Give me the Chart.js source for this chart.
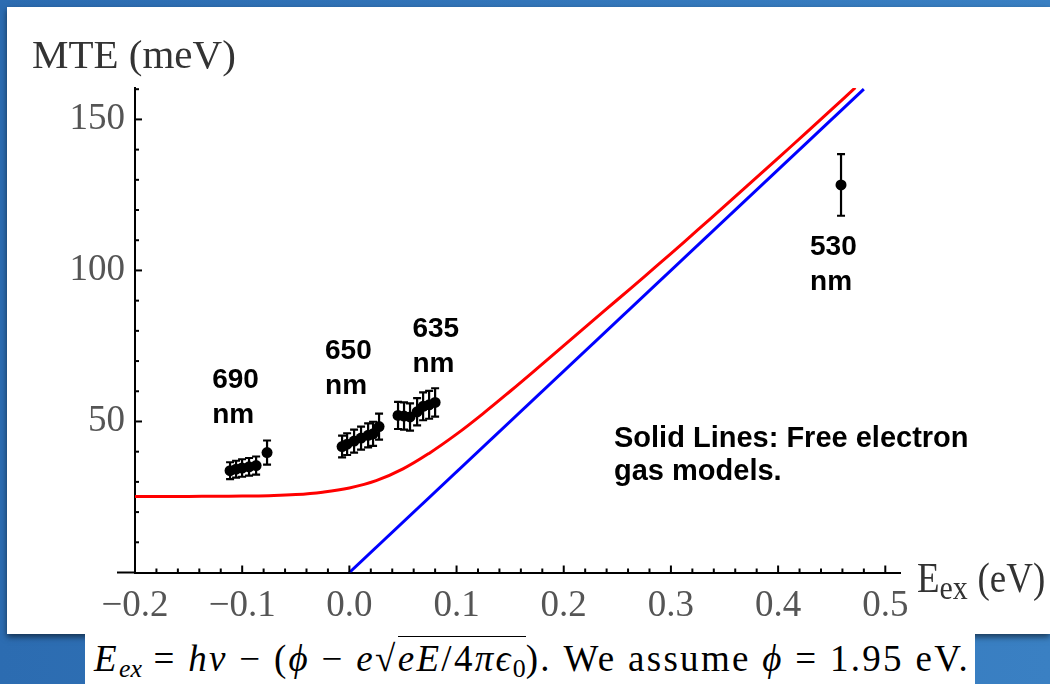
<!DOCTYPE html>
<html><head><meta charset="utf-8">
<script src="https://cdn.jsdelivr.net/npm/chart.js@4.4.0/dist/chart.umd.min.js"></script>
<style>
html,body{margin:0;padding:0;width:1050px;height:684px;overflow:hidden;background:#3277bb;}
#bg{position:absolute;left:0;top:0;width:1050px;height:684px;background:linear-gradient(90deg,#2c6cb1,#3a80c3);}
#panel{position:absolute;left:7px;top:7px;width:1043px;height:627px;background:#fff;box-shadow:0 3px 6px rgba(0,0,0,0.55);}
#wrap{position:absolute;left:0;top:0;width:1050px;height:634px;}
#formula{position:absolute;left:85px;top:634px;width:890px;height:50px;background:#fff;font-family:"Liberation Serif",serif;font-size:37px;letter-spacing:2.3px;color:#000;white-space:nowrap;line-height:50px;padding-left:9px;box-sizing:border-box;}
#formula sub{font-size:0.7em;vertical-align:-0.25em;line-height:0;letter-spacing:0;}
.rad{border-top:1.6px solid #000;padding-top:1px;}
</style></head>
<body>
<div id="bg"></div>
<div id="panel"></div>
<div id="wrap"><canvas id="c" width="1050" height="634"></canvas></div>
<div id="formula"><i>E</i><sub><i>ex</i></sub> = <i>hν</i> − (<i>ϕ</i> − <i>e</i>√<span class="rad"><i>eE</i>/4<i>π</i><i>ϵ</i><sub>0</sub></span>). We assume <i>ϕ</i> = 1.95 eV.</div>
<script>
// ---- data ----
const redX = [-0.2, -0.175, -0.15, -0.125, -0.1, -0.075, -0.05, -0.025, 0, 0.025, 0.05, 0.075, 0.1, 0.125, 0.15, 0.175, 0.2, 0.225, 0.25, 0.275, 0.3, 0.325, 0.35, 0.375, 0.4, 0.425, 0.45, 0.472];
const redY = [25.2, 25.2, 25.2, 25.25, 25.3, 25.45, 25.8, 26.6, 28.0, 30.4, 34.3, 39.6, 45.8, 52.7, 60.0, 67.5, 75.1, 82.7, 90.3, 97.9, 105.6, 113.4, 121.3, 129.2, 137.2, 145.2, 153.3, 160.5];
const blueX = [0, 0.48];
const blueY = [0, 160];
const measX = [-0.1113, -0.1057, -0.1001, -0.0936, -0.087, -0.0768,
               -0.0068, -0.0021, 0.0044, 0.0109, 0.0175, 0.0221, 0.0277,
               0.0454, 0.051, 0.0566, 0.0632, 0.0688, 0.0744, 0.08,
               0.4587];
const measY = [33.7, 34.2, 34.6, 35.0, 35.4, 39.7,
               41.7, 42.5, 43.5, 44.5, 45.4, 45.9, 48.3,
               52.0, 51.8, 51.5, 53.2, 55.0, 55.5, 56.3,
               128.3];
const measErr = [2.8, 2.8, 2.9, 2.9, 3.0, 4.0,
                 3.6, 3.6, 3.8, 3.8, 4.0, 4.0, 4.3,
                 4.5, 4.5, 4.5, 4.5, 4.6, 4.6, 4.7,
                 10.2];
const xMajor = [-0.2, -0.1, 0, 0.1, 0.2, 0.3, 0.4, 0.5];
const yMajor = [50, 100, 150];
const groupLabels = [['690', 'nm'], ['650', 'nm'], ['635', 'nm'], ['530', 'nm']];
const noteLines = ['Solid Lines: Free electron', 'gas models.'];
const yTitle = 'MTE (meV)';

const zip = (xs, ys) => xs.map((x, i) => ({x, y: ys[i]}));
const fmtX = v => (v < 0 ? '\u2212' : '') + Math.abs(v).toFixed(1);
const isMajor = (arr, v) => arr.find(t => Math.abs(t - v) < 1e-6);

const decor = {
  id: 'decor',
  afterDatasetsDraw(chart) {
    const {ctx} = chart; const xs = chart.scales.x, ys = chart.scales.y;
    ctx.save();
    ctx.strokeStyle = '#000'; ctx.lineWidth = 2.2;
    measX.forEach((mx, i) => {
      const px = xs.getPixelForValue(mx);
      const p1 = ys.getPixelForValue(measY[i] + measErr[i]);
      const p2 = ys.getPixelForValue(measY[i] - measErr[i]);
      ctx.beginPath();
      ctx.moveTo(px, p1); ctx.lineTo(px, p2);
      ctx.moveTo(px - 4, p1); ctx.lineTo(px + 4, p1);
      ctx.moveTo(px - 4, p2); ctx.lineTo(px + 4, p2);
      ctx.stroke();
    });
    ctx.restore();
  },
  afterDraw(chart) {
    const {ctx} = chart; const xs = chart.scales.x, ys = chart.scales.y;
    ctx.save();
    ctx.strokeStyle = '#000'; ctx.lineWidth = 2;
    const axY = ys.getPixelForValue(0);
    const axX = xs.getPixelForValue(-0.2);
    ctx.beginPath(); ctx.moveTo(axX - 18, axY); ctx.lineTo(axX, axY); ctx.stroke();
    xs.ticks.forEach(t => {
      const px = xs.getPixelForValue(t.value);
      const len = isMajor(xMajor, t.value) !== undefined ? 7 : 4;
      ctx.beginPath(); ctx.moveTo(px, axY); ctx.lineTo(px, axY - len); ctx.stroke();
    });
    ys.ticks.forEach(t => {
      if (t.value === 0) return;
      const py = ys.getPixelForValue(t.value);
      const len = isMajor(yMajor, t.value) !== undefined ? 7 : 4;
      ctx.beginPath(); ctx.moveTo(axX, py); ctx.lineTo(axX + len, py); ctx.stroke();
    });
    ctx.fillStyle = '#000';
    ctx.font = 'bold 28px "Liberation Sans", Arial, sans-serif';
    ctx.textAlign = 'left'; ctx.textBaseline = 'alphabetic';
    const anchors = [[-0.128, 61.1], [-0.0227, 70.7], [0.0588, 78.1], [0.4298, 105.1]];
    groupLabels.forEach((lines, i) => {
      const px = xs.getPixelForValue(anchors[i][0]);
      const py = ys.getPixelForValue(anchors[i][1]);
      lines.forEach((l, j) => ctx.fillText(l, px, py + j * 35));
    });
    ctx.font = 'bold 29px "Liberation Sans", Arial, sans-serif';
    const nx = xs.getPixelForValue(0.2469), ny = ys.getPixelForValue(41.6);
    noteLines.forEach((l, j) => ctx.fillText(l, nx, ny + j * 33));
    ctx.fillStyle = '#333';
    ctx.font = '41px "Liberation Serif", serif';
    ctx.fillText(yTitle, 32, 68);
    ctx.save();
    ctx.translate(917, 592); ctx.scale(0.88, 1);
    ctx.font = '42px "Liberation Serif", serif';
    ctx.fillText('E', 0, 0);
    let w = ctx.measureText('E').width;
    ctx.font = '34px "Liberation Serif", serif';
    ctx.fillText('ex', w, 7);
    w += ctx.measureText('ex').width + 11;
    ctx.font = '42px "Liberation Serif", serif';
    ctx.fillText('(eV)', w, 0);
    ctx.restore();
    ctx.restore();
  }
};

new Chart(document.getElementById('c'), {
  type: 'scatter',
  data: {
    datasets: [
      {data: zip(redX, redY), showLine: true, borderColor: '#ff0000', borderWidth: 3, pointRadius: 0, tension: 0.4, order: 3},
      {data: zip(blueX, blueY), showLine: true, borderColor: '#0000ff', borderWidth: 3, pointRadius: 0, order: 2},
      {data: zip(measX, measY), pointRadius: 5.5, pointBackgroundColor: '#000', pointBorderWidth: 0, order: 1}
    ]
  },
  options: {
    responsive: false, animation: false,
    layout: {padding: {left: 0, right: 149.7, top: 88, bottom: 0}},
    plugins: {legend: {display: false}, tooltip: {enabled: false}},
    scales: {
      x: {
        type: 'linear', position: 'bottom', min: -0.2, max: 0.514,
        afterFit: s => { s.height = 61.5; },
        grid: {display: true, drawOnChartArea: false, drawTicks: false},
        border: {display: true, color: '#000', width: 2},
        ticks: {stepSize: 0.02, includeBounds: false, autoSkip: false, maxRotation: 0, padding: 12,
          color: '#555', font: {family: '"Liberation Serif", serif', size: 37},
          callback: v => { const m = isMajor(xMajor, v); return m === undefined ? '' : fmtX(m); }}
      },
      y: {
        type: 'linear', position: 'left', min: 0, max: 160.4,
        afterFit: s => { s.width = 135; },
        grid: {display: true, drawOnChartArea: false, drawTicks: false},
        border: {display: true, color: '#000', width: 2},
        ticks: {stepSize: 10, includeBounds: false, autoSkip: false, padding: 10,
          color: '#555', font: {family: '"Liberation Serif", serif', size: 37},
          callback: v => { const m = isMajor(yMajor, v); return m === undefined ? '' : String(m); }}
      }
    }
  },
  plugins: [decor]
});
</script>
</body></html>
